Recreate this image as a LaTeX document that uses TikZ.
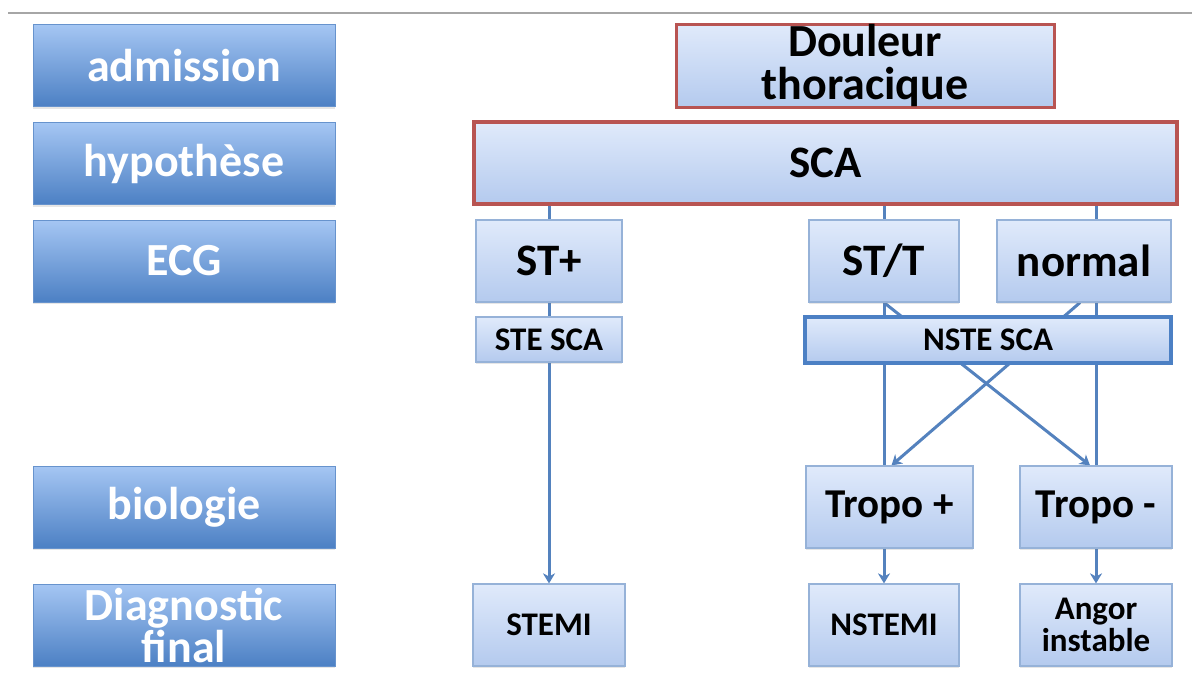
\documentclass[tikz,border=0pt]{standalone}
\usepackage{fontspec}
\setmainfont{Carlito}
\usetikzlibrary{arrows.meta,backgrounds,shadows}
\definecolor{stagetop}{RGB}{165,198,243}
\definecolor{stagebot}{RGB}{76,128,196}
\definecolor{boxtop}{RGB}{224,234,251}
\definecolor{boxbot}{RGB}{180,202,238}
\definecolor{boxline}{RGB}{150,178,216}
\definecolor{redline}{RGB}{184,84,82}
\definecolor{linkblue}{RGB}{84,130,190}
\begin{document}
\begin{tikzpicture}[x=1pt,y=-1pt]
% styles
\tikzset{
  stage/.style={rectangle, inner sep=0pt, minimum width=302pt, minimum height=82pt,
    top color=stagetop, bottom color=stagebot, draw=stagebot!85!white, line width=0.8pt,
    text=white, align=center, font=\fontsize{46}{42}\selectfont\bfseries,
    drop shadow={opacity=.2, shadow xshift=0pt, shadow yshift=-2pt}},
  topic/.style={rectangle, inner sep=0pt, minimum height=82pt,
    top color=boxtop, bottom color=boxbot, draw=boxline, line width=1.2pt,
    align=center, font=\fontsize{45}{44}\selectfont\bfseries,
    drop shadow={opacity=.2, shadow xshift=0pt, shadow yshift=-2pt}},
  small/.style={font=\fontsize{33}{32}\selectfont\bfseries},
  link/.style={draw=linkblue, line width=3pt},
  tip/.style={link, -{Stealth[length=10pt,width=12pt,inset=3pt]}}
}
\useasboundingbox (0,0) rectangle (1192,673);
% thin rule at the top
\draw[black!35, line width=1.5pt] (8,13) -- (1192,13);
% the stages on the left
\foreach \name/\y/\txt in {adm/65.5/admission, hyp/163.5/hypothèse, ecg/261/ECG,
    bio/507/biologie, diag/625/{Diagnostic\\final}} {
  \node[stage] (\name) at (184,\y) {\txt};
}
% top of the tree
\node[topic, minimum width=378pt, minimum height=83pt, draw=redline, line width=3pt,
  font=\fontsize{46}{43}\selectfont\bfseries] (douleur) at (865,65.5) {Douleur\\thoracique};
\node[topic, minimum width=703pt, draw=redline, line width=4pt] (sca) at (825.5,163) {SCA};
% ECG
\node[topic, minimum width=146pt] (stplus) at (549,261) {ST+};
\node[topic, minimum width=150pt] (stt) at (884,261) {ST/T};
\node[topic, minimum width=174pt] (normal) at (1084,261) {normal};
\node[topic, small, minimum width=146pt, minimum height=45pt] (stesca) at (549,339.5) {STE SCA};
\node[topic, small, minimum width=366pt, minimum height=46pt, draw=stagebot, line width=4pt]
  (nstesca) at (988,340) {NSTE SCA};
% biologie
\node[topic, minimum width=167pt, font=\fontsize{41}{42}\selectfont\bfseries] (tropop) at (889.5,507) {Tropo +};
\node[topic, minimum width=152pt, font=\fontsize{41}{42}\selectfont\bfseries] (tropom) at (1096,507) {Tropo -};
% diagnostic final
\node[topic, small, minimum width=152pt] (stemi) at (549,625) {STEMI};
\node[topic, small, minimum width=150pt] (nstemi) at (884,625) {NSTEMI};
\node[topic, small, minimum width=152pt] (angor) at (1096,625) {Angor\\instable};
% connectors
\begin{scope}[on background layer]
\draw[link] (sca.south -| stplus.north) -- (stplus.north);
\draw[link] (stplus.south) -- (stesca.north);
\draw[tip] (stesca.south) -- (stemi.north);
\draw[link] (sca.south -| stt.north) -- (stt.north);
\draw[link] (sca.south -| tropom.north) -- (normal.north -| tropom.north);
\draw[link] (stt.south) -- (stt.south |- tropop.north);
\draw[link] (normal.south -| tropom.north) -- (tropom.north);
\draw[tip] (stt.south) -- ([xshift=-6pt]tropom.north);
\draw[tip] ([xshift=-4pt]normal.south) -- ([xshift=2pt]tropop.north);
\draw[tip] (tropop.south -| nstemi.north) -- (nstemi.north);
\draw[tip] (tropom.south) -- (angor.north);
\end{scope}
\end{tikzpicture}
\end{document}
